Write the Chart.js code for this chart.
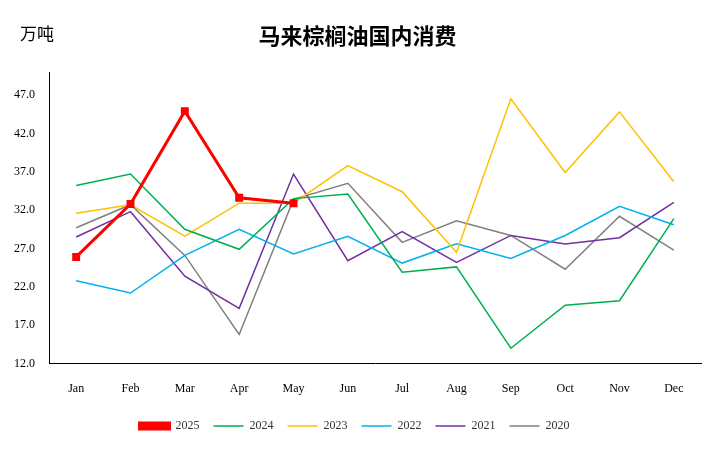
<!DOCTYPE html>
<html>
<head>
<meta charset="utf-8">
<script src="https://cdn.jsdelivr.net/npm/chart.js@4"></script>
<style>
body { margin: 0; background: #fff; }
#wrap { position: relative; width: 715px; height: 450px; }
#title { position: absolute; top: 18px; left: 0; width: 715px; text-align: center; font: bold 22px "Noto Sans CJK SC", serif; }
#unit { position: absolute; top: 20px; left: 20px; font: 17px "Noto Sans CJK SC", serif; }
</style>
</head>
<body>
<div id="wrap">
  <div id="title">马来棕榈油国内消费</div>
  <div id="unit">万吨</div>
  <canvas id="c" width="715" height="450"></canvas>
</div>
<script>
const months = ['Jan', 'Feb', 'Mar', 'Apr', 'May', 'Jun', 'Jul', 'Aug', 'Sep', 'Oct', 'Nov', 'Dec'];
const yTicks = [12, 17, 22, 27, 32, 37, 42, 47];
const s2025 = [25.9, 32.8, 44.9, 33.6, 32.9];
const s2024 = [35.2, 36.7, 29.5, 26.9, 33.5, 34.1, 23.9, 24.6, 14.0, 19.6, 20.2, 30.9];
const s2023 = [31.6, 32.7, 28.6, 32.9, 32.9, 37.8, 34.4, 26.5, 46.5, 36.9, 44.8, 35.7];
const s2022 = [22.8, 21.2, 26.1, 29.5, 26.3, 28.6, 25.1, 27.6, 25.7, 28.7, 32.5, 30.1];
const s2021 = [28.5, 31.8, 23.4, 19.2, 36.7, 25.4, 29.2, 25.2, 28.7, 27.6, 28.4, 33.0];
const s2020 = [29.7, 32.7, 26.1, 15.8, 33.4, 35.5, 27.8, 30.6, 28.7, 24.3, 31.2, 26.8];

function line(label, data, color) {
    return { label: label, data: data, borderColor: color, backgroundColor: color,
             borderWidth: 1.5, pointRadius: 0, pointStyle: 'line', tension: 0 };
}

new Chart(document.getElementById('c'), {
    type: 'line',
    data: {
        labels: months,
        datasets: [
            { label: '2025', data: s2025, borderColor: '#ff0000', backgroundColor: '#ff0000',
              borderWidth: 3, pointRadius: 3.5, pointStyle: 'rect', tension: 0 },
            line('2024', s2024, '#00b050'),
            line('2023', s2023, '#ffc000'),
            line('2022', s2022, '#00b0f0'),
            line('2021', s2021, '#7030a0'),
            line('2020', s2020, '#808080')
        ]
    },
    options: {
        responsive: false,
        animation: false,
        layout: { padding: { top: 72, left: 8, right: 14, bottom: 8 } },
        plugins: {
            legend: {
                position: 'bottom',
                labels: { usePointStyle: true, pointStyleWidth: 30, boxHeight: 6, padding: 14,
                          font: { family: 'Liberation Serif', size: 12 }, color: '#333' }
            },
            tooltip: { enabled: false }
        },
        scales: {
            x: {
                offset: true,
                grid: { display: false },
                border: { color: '#000' },
                ticks: { font: { family: 'Liberation Serif', size: 12 }, color: '#000', padding: 10 }
            },
            y: {
                min: 12, max: 50,
                grid: { display: false },
                border: { color: '#000' },
                afterBuildTicks: axis => { axis.ticks = yTicks.map(v => ({ value: v })); },
                ticks: { font: { family: 'Liberation Serif', size: 12 }, color: '#000', padding: 6,
                         callback: v => Number(v).toFixed(1) }
            }
        }
    }
});
</script>
</body>
</html>
